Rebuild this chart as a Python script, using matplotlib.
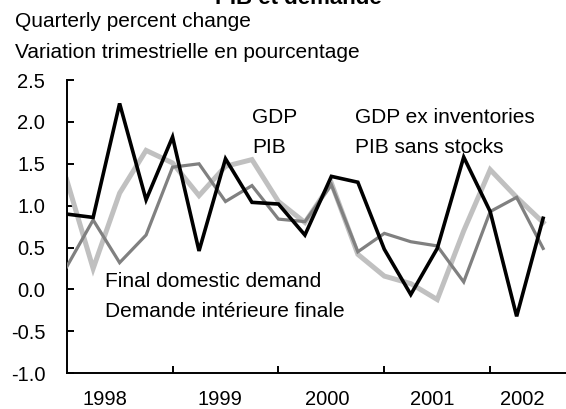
import matplotlib
matplotlib.use("Agg")
import matplotlib.pyplot as plt

plt.rcParams['font.family'] = ['Liberation Sans', 'DejaVu Sans']
plt.rcParams['axes.unicode_minus'] = False

# quarterly data, 1998Q1 .. 2002Q3
gdp = [0.90, 0.86, 2.22, 1.07, 1.82, 0.46, 1.56, 1.04, 1.02, 0.65,
       1.35, 1.28, 0.48, -0.06, 0.49, 1.58, 0.93, -0.32, 0.85]
gdp_ex_inv = [1.31, 0.25, 1.15, 1.66, 1.51, 1.12, 1.47, 1.55, 1.05, 0.80,
              1.27, 0.42, 0.16, 0.07, -0.12, 0.70, 1.43, 1.10, 0.80]
final_demand = [0.27, 0.83, 0.32, 0.65, 1.46, 1.50, 1.05, 1.24, 0.84, 0.81,
                1.25, 0.45, 0.67, 0.57, 0.52, 0.09, 0.93, 1.10, 0.49]
years = ['1998', '1999', '2000', '2001', '2002']
year_pos = [1.45, 5.8, 9.85, 13.8, 17.2]
year_breaks = [4, 8, 12, 16]
yticks = [-1.0, -0.5, 0.0, 0.5, 1.0, 1.5, 2.0, 2.5]

x = list(range(len(gdp)))

fig = plt.figure(figsize=(5.66, 4.09), dpi=100)
ax = fig.add_axes([0.1178, 0.0873, 0.882, 0.7171])

ax.plot(x, gdp_ex_inv, color='#c0c0c0', lw=3.6, solid_joinstyle='miter', zorder=2)
ax.plot(x, final_demand, color='#808080', lw=2.3, solid_joinstyle='miter', zorder=3)
ax.plot(x, gdp, color='black', lw=2.6, solid_joinstyle='miter', zorder=4)

ax.set_xlim(0, 18.86)
ax.set_ylim(-1.0, 2.5)

for s in ['top', 'right']:
    ax.spines[s].set_visible(False)
for s in ['left', 'bottom']:
    ax.spines[s].set_linewidth(1.4)

ax.set_yticks(yticks)
ax.set_yticklabels(['%.1f' % v for v in yticks])
ax.tick_params(axis='y', direction='in', length=5, width=1.4, pad=15.5,
               labelsize=14.5)

ax.set_xticks(year_breaks)
ax.set_xticklabels([])
ax.tick_params(axis='x', which='major', direction='in', length=5, width=1.4)
ax.set_xticks(year_pos, minor=True)
ax.set_xticklabels(years, minor=True)
ax.tick_params(axis='x', which='minor', length=0, pad=12, labelsize=14.5)

fs = 15
ax.text(7.0, 1.99, 'GDP', fontsize=fs, va='baseline')
ax.text(7.0, 1.625, 'PIB', fontsize=fs, va='baseline')
ax.text(10.9, 1.99, 'GDP ex inventories', fontsize=fs, va='baseline')
ax.text(10.9, 1.625, 'PIB sans stocks', fontsize=fs, va='baseline')
ax.text(1.45, 0.03, 'Final domestic demand', fontsize=fs, va='baseline')
ax.text(1.45, -0.325, 'Demande intérieure finale', fontsize=fs, va='baseline')

fig.text(0.528, 1 - 4 / 409, 'PIB et demande', fontsize=16,
         fontweight='bold', ha='center', va='baseline')
fig.text(15 / 566, 1 - 27.3 / 409, 'Quarterly percent change',
         fontsize=fs, va='baseline')
fig.text(15 / 566, 1 - 58.3 / 409, 'Variation trimestrielle en pourcentage',
         fontsize=fs, va='baseline')

fig.savefig('out.png', dpi=100)
